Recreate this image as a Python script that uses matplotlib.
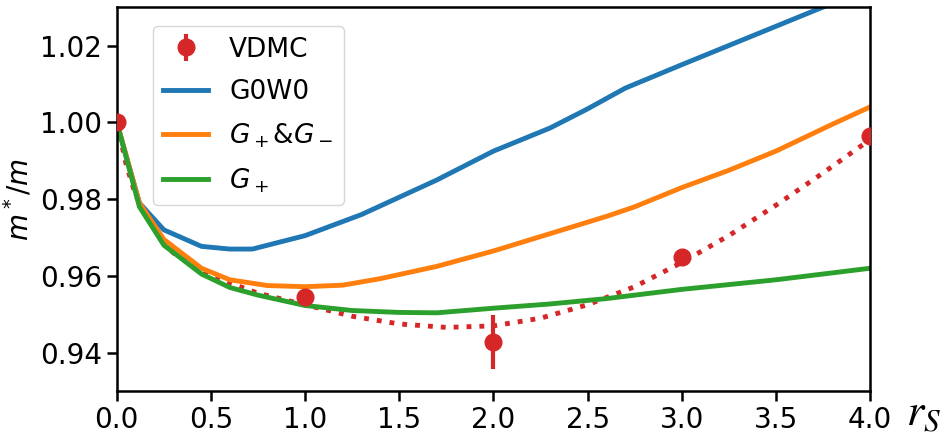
import numpy as np
import matplotlib
matplotlib.use("Agg")
import matplotlib.pyplot as plt

# VDMC points with error bars
rs_vdmc = [0.0, 1.0, 2.0, 3.0, 4.0]
m_vdmc = [1.000, 0.9545, 0.9428, 0.9650, 0.9965]
err_vdmc = [0.0005, 0.001, 0.007, 0.001, 0.001]

# fit through VDMC (dotted)
rs_fit = [0, 0.05, 0.1, 0.2, 0.3, 0.5, 0.75, 1.0, 1.25, 1.5, 1.75, 2.0,
          2.25, 2.5, 2.75, 3.0, 3.25, 3.5, 3.75, 4.0]
m_fit = [1.0, 0.989, 0.981, 0.972, 0.966, 0.960, 0.9555, 0.9525, 0.9495,
         0.9475, 0.9466, 0.9470, 0.9490, 0.9525, 0.9572, 0.9635, 0.9705,
         0.9784, 0.9868, 0.9955]

rs_g0w0 = [0, 0.12, 0.25, 0.45, 0.6, 0.72, 1.0, 1.3, 1.7, 2.0, 2.3, 2.5,
           2.7, 3.0, 3.3, 3.6, 3.8]
m_g0w0 = [1.0, 0.979, 0.972, 0.9677, 0.967, 0.967, 0.9705, 0.976, 0.985,
          0.9925, 0.9985, 1.0035, 1.0089, 1.015, 1.021, 1.027, 1.031]

rs_gpm = [0, 0.12, 0.25, 0.45, 0.6, 0.8, 1.0, 1.2, 1.4, 1.7, 2.0, 2.3,
          2.6, 2.75, 3.0, 3.25, 3.5, 3.8, 4.0]
m_gpm = [1.0, 0.979, 0.9695, 0.962, 0.959, 0.9575, 0.9572, 0.9576, 0.9593,
         0.9625, 0.9665, 0.971, 0.9755, 0.978, 0.983, 0.9875, 0.9925,
         0.9995, 1.004]

rs_gp = [0, 0.12, 0.25, 0.45, 0.6, 0.75, 1.0, 1.25, 1.5, 1.7, 2.0, 2.3,
         2.6, 3.0, 3.5, 4.0]
m_gp = [1.0, 0.978, 0.968, 0.9605, 0.957, 0.955, 0.9523, 0.951, 0.9505,
        0.9504, 0.9516, 0.9527, 0.9541, 0.9565, 0.959, 0.962]

xticks = [0.0, 0.5, 1.0, 1.5, 2.0, 2.5, 3.0, 3.5, 4.0]
yticks = [0.94, 0.96, 0.98, 1.00, 1.02]

fig = plt.figure(figsize=(9.42, 4.45), dpi=100)
ax = fig.add_axes([0.124, 0.121, 0.7996, 0.863])

eb = ax.errorbar(rs_vdmc, m_vdmc, yerr=err_vdmc, fmt='o', color='tab:red',
                 ms=12, elinewidth=3, capsize=0, zorder=5)
ax.plot(rs_fit, m_fit, ':', color='tab:red', lw=3.5)
l1, = ax.plot(rs_g0w0, m_g0w0, color='tab:blue', lw=3.5)
l2, = ax.plot(rs_gpm, m_gpm, color='tab:orange', lw=3.5)
l3, = ax.plot(rs_gp, m_gp, color='tab:green', lw=3.5)

ax.set_xlim(0, 4)
ax.set_ylim(0.93, 1.03)
ax.set_xticks(xticks)
ax.set_yticks(yticks)
ax.tick_params(labelsize=20, width=1.8, length=7)
for s in ax.spines.values():
    s.set_linewidth(1.8)

ax.set_ylabel(r'$m^*/m$', fontsize=20)
fig.text(0.98, 0.072, r'$r_S$', fontsize=32, math_fontfamily='stix',
         ha='center', va='center')

ax.legend([eb, l1, l2, l3], ['VDMC', 'G0W0', r'$G_+$&$G_-$', r'$G_+$'],
          loc='upper left', bbox_to_anchor=(0.03, 0.985), fontsize=19,
          handlelength=1.7, labelspacing=0.62)

fig.savefig('out.png', dpi=100)
